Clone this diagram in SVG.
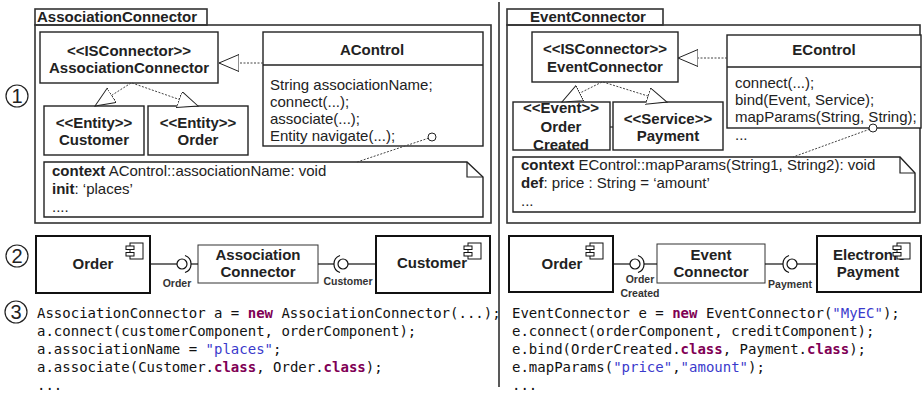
<svg xmlns="http://www.w3.org/2000/svg" width="923" height="395" viewBox="0 0 923 395">
<style>
.bg{fill:#fff}
.frame{fill:none;stroke:#333;stroke-width:1.6}
.box{fill:#fff;stroke:#222;stroke-width:1.4}
.cbox{fill:#fff;stroke:#111;stroke-width:2}
.tbox{fill:#fff;stroke:#333;stroke-width:1}
.dash{fill:none;stroke:#444;stroke-width:1;stroke-dasharray:2,1.5}
.ln{fill:none;stroke:#111;stroke-width:1.2}
.t{font-family:"Liberation Sans",Arial,sans-serif;font-size:15px;fill:#222}
.b{font-family:"Liberation Sans",Arial,sans-serif;font-size:15px;font-weight:bold;fill:#222}
.sm{font-family:"Liberation Sans",Arial,sans-serif;font-size:10.5px;font-weight:bold;fill:#333}
.num{font-family:"Liberation Sans",Arial,sans-serif;font-size:20px;fill:#222}
.code{font-family:"DejaVu Sans Mono","Liberation Mono",monospace;font-size:14px;fill:#111}
.kw{fill:#7f0055;font-weight:bold}
.str{fill:#3a3acc}
.mid{text-anchor:middle}
</style>
<defs>
<marker id="tri" markerUnits="userSpaceOnUse" markerWidth="22" markerHeight="18" refX="20" refY="8.5" orient="auto">
<path d="M0,0 L20,8.5 L0,17 z" fill="#fff" stroke="#222" stroke-width="1"/>
</marker>
<g id="icon">
<rect x="5" y="0" width="13" height="16" fill="#fff" stroke="#111" stroke-width="1"/>
<rect x="1" y="3" width="8" height="3.5" fill="#fff" stroke="#111" stroke-width="1"/>
<rect x="1" y="9.5" width="8" height="3.5" fill="#fff" stroke="#111" stroke-width="1"/>
</g>
</defs>
<rect class="bg" x="0" y="0" width="923" height="395"/>

<line x1="499" y1="2" x2="499" y2="387" stroke="#222" stroke-width="1.5"/>

<g id="num1"><circle cx="17" cy="96" r="11" fill="none" stroke="#222" stroke-width="1.2"/><text class="num mid" x="17" y="103">1</text></g>
<g id="num2"><circle cx="17" cy="256" r="11" fill="none" stroke="#222" stroke-width="1.2"/><text class="num mid" x="17" y="263">2</text></g>
<g id="num3"><circle cx="16" cy="312" r="11" fill="none" stroke="#222" stroke-width="1.2"/><text class="num mid" x="16" y="319">3</text></g>

<g id="pkgAssoc">
<rect class="frame" x="35" y="9" width="172" height="16"/>
<rect class="frame" x="35" y="25" width="456" height="198"/>
<text class="b" x="37" y="22">AssociationConnector</text>
</g>
<g id="pkgEvent">
<rect class="frame" x="507" y="9" width="156" height="16"/>
<rect class="frame" x="507" y="25" width="413" height="198"/>
<text class="b mid" x="588" y="22">EventConnector</text>
</g>

<g id="isAssoc">
<rect class="box" x="40" y="32" width="178" height="51"/>
<text class="b mid" x="129" y="56">&lt;&lt;ISConnector&gt;&gt;</text>
<text class="b mid" x="129" y="73">AssociationConnector</text>
</g>
<g id="entCustomer">
<rect class="box" x="44" y="106" width="100" height="49"/>
<text class="b mid" x="94" y="128">&lt;&lt;Entity&gt;&gt;</text>
<text class="b mid" x="94" y="145">Customer</text>
</g>
<g id="entOrder">
<rect class="box" x="148" y="106" width="100" height="49"/>
<text class="b mid" x="198" y="128">&lt;&lt;Entity&gt;&gt;</text>
<text class="b mid" x="198" y="145">Order</text>
</g>
<g id="aControl">
<rect class="box" x="263" y="32" width="220" height="114"/>
<line x1="263" y1="65" x2="483" y2="65" stroke="#222" stroke-width="1.4"/>
<text class="b mid" x="372" y="55">AControl</text>
<text class="t" x="270" y="90">String associationName;</text>
<text class="t" x="270" y="107">connect(...);</text>
<text class="t" x="270" y="124">associate(...);</text>
<text class="t" x="270" y="141">Entity navigate(...);</text>
</g>
<g id="noteAssoc">
<path class="box" d="M44,162 H467 L483,177 V217 H44 Z"/>
<path d="M467,162 V177 H483" fill="none" stroke="#222" stroke-width="1.2"/>
<text class="t" x="52" y="176"><tspan font-weight="bold">context</tspan> AControl::associationName: void</text>
<text class="t" x="52" y="194"><tspan font-weight="bold">init</tspan>:  ‘places’</text>
<text class="t" x="52" y="212">....</text>
</g>

<g id="isEvent">
<rect class="box" x="532" y="32" width="146" height="50"/>
<text class="b mid" x="605" y="54">&lt;&lt;ISConnector&gt;&gt;</text>
<text class="b mid" x="605" y="72">EventConnector</text>
</g>
<g id="evOrderCreated">
<rect class="box" x="513" y="102" width="97" height="48"/>
<text class="b mid" x="561" y="113">&lt;&lt;Event&gt;&gt;</text>
<text class="b mid" x="561" y="132">Order</text>
<text class="b mid" x="561" y="150">Created</text>
</g>
<line x1="610" y1="127" x2="613" y2="127" stroke="#222" stroke-width="1.2"/>
<g id="svPayment">
<rect class="box" x="613" y="102" width="110" height="48"/>
<text class="b mid" x="668" y="124">&lt;&lt;Service&gt;&gt;</text>
<text class="b mid" x="668" y="141">Payment</text>
</g>
<g id="eControl">
<rect class="box" x="727" y="35" width="194" height="93"/>
<line x1="727" y1="67" x2="921" y2="67" stroke="#222" stroke-width="1.4"/>
<text class="b mid" x="824" y="55">EControl</text>
<text class="t" x="735" y="88">connect(...);</text>
<text class="t" x="735" y="105">bind(Event, Service);</text>
<text class="t" x="735" y="122">mapParams(String, String);</text>
<text class="t" x="735" y="140">...</text>
</g>
<g id="noteEvent">
<path class="box" d="M513,157 H900 L915,173 V212 H513 Z"/>
<path d="M900,157 V173 H915" fill="none" stroke="#222" stroke-width="1.2"/>
<text class="t" x="521" y="170"><tspan font-weight="bold">context</tspan> EControl::mapParams(String1, String2): void</text>
<text class="t" x="521" y="188"><tspan font-weight="bold">def</tspan>: price : String = ‘amount’</text>
<text class="t" x="521" y="206">...</text>
</g>

<g id="compOrderL">
<rect class="cbox" x="36" y="236" width="114" height="57"/>
<text class="b mid" x="93" y="269" font-size="14">Order</text>
<use href="#icon" x="125" y="243"/>
</g>
<g id="connAssoc">
<rect class="tbox" x="198" y="245" width="120" height="38"/>
<text class="b mid" x="258" y="260">Association</text>
<text class="b mid" x="258" y="277">Connector</text>
</g>
<g id="compCustomer">
<rect class="cbox" x="376" y="236" width="114" height="57"/>
<text class="b" x="397" y="268">Customer</text>
<use href="#icon" x="463" y="243"/>
</g>
<g id="compOrderR">
<rect class="cbox" x="509" y="236" width="104" height="56"/>
<text class="b mid" x="562" y="269" font-size="14">Order</text>
<use href="#icon" x="585" y="243"/>
</g>
<g id="connEvent">
<rect class="tbox" x="657" y="244" width="108" height="39"/>
<text class="b mid" x="711" y="260">Event</text>
<text class="b mid" x="711" y="277">Connector</text>
</g>
<g id="compPayment">
<rect class="cbox" x="817" y="236" width="104" height="56"/>
<text class="b" x="833" y="260">Electronic</text>
<text class="b mid" x="868" y="277">Payment</text>
<use href="#icon" x="892" y="243"/>
</g>

<g id="connectors">
<line class="dash" x1="263" y1="63" x2="219" y2="63" marker-end="url(#tri)"/>
<line class="dash" x1="131" y1="83" x2="95" y2="106" marker-end="url(#tri)"/>
<line class="dash" x1="132" y1="83" x2="198" y2="106" marker-end="url(#tri)"/>
<line class="dash" x1="432" y1="137" x2="357" y2="162"/>
<circle cx="432" cy="137" r="4" fill="#fff" stroke="#222" stroke-width="1"/>

<line class="dash" x1="727" y1="58" x2="678" y2="58" marker-end="url(#tri)"/>
<line class="dash" x1="602" y1="82" x2="562" y2="102" marker-end="url(#tri)"/>
<line class="dash" x1="603" y1="82" x2="667" y2="102" marker-end="url(#tri)"/>
<line class="dash" x1="873" y1="128" x2="793" y2="157"/>
<circle cx="873" cy="128" r="4" fill="#fff" stroke="#222" stroke-width="1"/>

<line class="ln" x1="150" y1="264" x2="177" y2="264"/>
<circle cx="182" cy="264" r="5" fill="#fff" stroke="#111" stroke-width="1.2"/>
<path class="ln" d="M185,255.5 A9,9 0 0 1 185,272.5"/>
<line class="ln" x1="191" y1="264" x2="198" y2="264"/>
<text class="sm mid" x="177" y="287">Order</text>

<line class="ln" x1="318" y1="264" x2="334" y2="264"/>
<path class="ln" d="M340,255.5 A9,9 0 0 0 340,272.5"/>
<circle cx="343" cy="264" r="5" fill="#fff" stroke="#111" stroke-width="1.2"/>
<line class="ln" x1="348" y1="264" x2="376" y2="264"/>
<text class="sm mid" x="348" y="285">Customer</text>

<line class="ln" x1="613" y1="264" x2="630" y2="264"/>
<circle cx="635" cy="264" r="5" fill="#fff" stroke="#111" stroke-width="1.2"/>
<path class="ln" d="M638,255.5 A9,9 0 0 1 638,272.5"/>
<line class="ln" x1="644" y1="264" x2="657" y2="264"/>
<text class="sm mid" x="640" y="283">Order</text>
<text class="sm mid" x="640" y="297">Created</text>

<line class="ln" x1="765" y1="264" x2="783" y2="264"/>
<path class="ln" d="M789,255.5 A9,9 0 0 0 789,272.5"/>
<circle cx="792" cy="264" r="5" fill="#fff" stroke="#111" stroke-width="1.2"/>
<line class="ln" x1="797" y1="264" x2="817" y2="264"/>
<text class="sm mid" x="790" y="288">Payment</text>
</g>

<g id="codeAssoc">
<text class="code" x="37" y="318">AssociationConnector a = <tspan class="kw">new</tspan> AssociationConnector(...);</text>
<text class="code" x="37" y="336">a.connect(customerComponent, orderComponent);</text>
<text class="code" x="37" y="354">a.associationName = <tspan class="str">"places"</tspan>;</text>
<text class="code" x="37" y="372">a.associate(Customer.<tspan class="kw">class</tspan>, Order.<tspan class="kw">class</tspan>);</text>
<text class="code" x="37" y="390">...</text>
</g>
<g id="codeEvent">
<text class="code" x="512" y="318">EventConnector e = <tspan class="kw">new</tspan> EventConnector(<tspan class="str">"MyEC"</tspan>);</text>
<text class="code" x="512" y="336">e.connect(orderComponent, creditComponent);</text>
<text class="code" x="512" y="354">e.bind(OrderCreated.<tspan class="kw">class</tspan>, Payment.<tspan class="kw">class</tspan>);</text>
<text class="code" x="512" y="372">e.mapParams(<tspan class="str">"price"</tspan>,<tspan class="str">"amount"</tspan>);</text>
<text class="code" x="512" y="390">...</text>
</g>
</svg>
